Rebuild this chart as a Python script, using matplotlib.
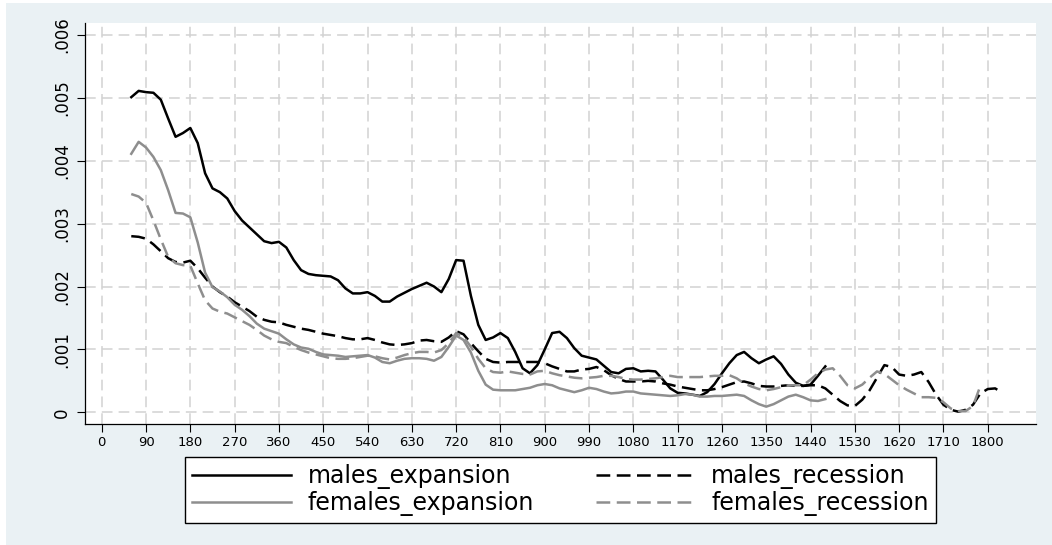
import numpy as np
import matplotlib
matplotlib.use("Agg")
import matplotlib.pyplot as plt
from matplotlib.patches import Rectangle

# hazard estimates on a 15-unit grid starting at 60
START, STEP = 60, 15

males_expansion = [
    0.00501, 0.00511, 0.00509, 0.00508, 0.00497, 0.00467, 0.00438, 0.00444, 0.00452, 0.00428,
    0.00380, 0.00356, 0.00350, 0.00340, 0.00320, 0.00305, 0.00294, 0.00283, 0.00272, 0.00269,
    0.00271, 0.00262, 0.00242, 0.00226, 0.00220, 0.00218, 0.00217, 0.00216, 0.00210, 0.00197,
    0.00189, 0.00189, 0.00191, 0.00185, 0.00176, 0.00176, 0.00184, 0.00190, 0.00196, 0.00201,
    0.00206, 0.00200, 0.00191, 0.00212, 0.00242, 0.00241, 0.00185, 0.00139, 0.00115, 0.00119,
    0.00126, 0.00118, 0.00096, 0.00070, 0.00062, 0.00075, 0.00100, 0.00126, 0.00128, 0.00118,
    0.00102, 0.00090, 0.00087, 0.00084, 0.00074, 0.00064, 0.00062, 0.00069, 0.00070, 0.00065,
    0.00066, 0.00065, 0.00052, 0.00038, 0.00031, 0.00030, 0.00028, 0.00026, 0.00032, 0.00045,
    0.00062, 0.00078, 0.00091, 0.00096, 0.00086, 0.00078, 0.00084, 0.00089, 0.00077, 0.00060,
    0.00047, 0.00042, 0.00044, 0.00058, 0.00073,
]

males_recession = [
    0.00280, 0.00279, 0.00276, 0.00267, 0.00256, 0.00245, 0.00239, 0.00238, 0.00241, 0.00229,
    0.00214, 0.00200, 0.00191, 0.00184, 0.00175, 0.00168, 0.00161, 0.00152, 0.00147, 0.00144,
    0.00143, 0.00139, 0.00136, 0.00133, 0.00131, 0.00128, 0.00125, 0.00123, 0.00121, 0.00118,
    0.00116, 0.00116, 0.00118, 0.00115, 0.00111, 0.00108, 0.00107, 0.00108, 0.00110, 0.00114,
    0.00115, 0.00113, 0.00112, 0.00119, 0.00129, 0.00124, 0.00110, 0.00097, 0.00085, 0.00080,
    0.00079, 0.00080, 0.00080, 0.00080, 0.00080, 0.00080, 0.00078, 0.00073, 0.00069, 0.00065,
    0.00065, 0.00068, 0.00069, 0.00072, 0.00067, 0.00059, 0.00053, 0.00049, 0.00049, 0.00049,
    0.00050, 0.00049, 0.00046, 0.00044, 0.00041, 0.00039, 0.00037, 0.00035, 0.00035, 0.00037,
    0.00040, 0.00044, 0.00048, 0.00049, 0.00046, 0.00042, 0.00041, 0.00041, 0.00042, 0.00043,
    0.00042, 0.00042, 0.00043, 0.00043, 0.00038, 0.00028, 0.00018, 0.00011, 0.00010, 0.00020,
    0.00035, 0.00055, 0.00075, 0.00072, 0.00060, 0.00058, 0.00060, 0.00064, 0.00048, 0.00028,
    0.00012, 0.00004, 0.00001, 0.00004, 0.00012, 0.00030, 0.00037, 0.00038, 0.00031,
]

females_expansion = [
    0.00411, 0.00430, 0.00421, 0.00406, 0.00385, 0.00353, 0.00317, 0.00316, 0.00310, 0.00270,
    0.00222, 0.00199, 0.00192, 0.00183, 0.00171, 0.00163, 0.00153, 0.00141, 0.00133, 0.00129,
    0.00125, 0.00116, 0.00108, 0.00103, 0.00101, 0.00096, 0.00092, 0.00091, 0.00090, 0.00088,
    0.00089, 0.00090, 0.00091, 0.00087, 0.00080, 0.00078, 0.00082, 0.00085, 0.00086, 0.00086,
    0.00085, 0.00082, 0.00088, 0.00104, 0.00122, 0.00115, 0.00095, 0.00066, 0.00044, 0.00036,
    0.00035, 0.00035, 0.00035, 0.00037, 0.00039, 0.00043, 0.00045, 0.00043, 0.00038, 0.00035,
    0.00032, 0.00035, 0.00039, 0.00037, 0.00033, 0.00030, 0.00031, 0.00033, 0.00033, 0.00030,
    0.00029, 0.00028, 0.00027, 0.00026, 0.00027, 0.00029, 0.00028, 0.00025, 0.00025, 0.00026,
    0.00026, 0.00027, 0.00028, 0.00026, 0.00019, 0.00013, 0.00009, 0.00013, 0.00019, 0.00025,
    0.00028, 0.00024, 0.00019, 0.00018, 0.00021,
]

females_recession = [
    0.00347, 0.00343, 0.00333, 0.00305, 0.00275, 0.00247, 0.00237, 0.00234, 0.00233, 0.00205,
    0.00178, 0.00165, 0.00160, 0.00157, 0.00151, 0.00145, 0.00139, 0.00131, 0.00122, 0.00116,
    0.00112, 0.00110, 0.00104, 0.00099, 0.00095, 0.00092, 0.00089, 0.00086, 0.00085, 0.00085,
    0.00086, 0.00088, 0.00090, 0.00089, 0.00086, 0.00084, 0.00087, 0.00091, 0.00094, 0.00096,
    0.00096, 0.00095, 0.00099, 0.00110, 0.00126, 0.00120, 0.00104, 0.00085, 0.00070, 0.00064,
    0.00063, 0.00065, 0.00063, 0.00061, 0.00060, 0.00065, 0.00066, 0.00062, 0.00059, 0.00057,
    0.00055, 0.00054, 0.00055, 0.00056, 0.00058, 0.00058, 0.00056, 0.00053, 0.00052, 0.00052,
    0.00053, 0.00054, 0.00056, 0.00058, 0.00056, 0.00056, 0.00056, 0.00056, 0.00057, 0.00058,
    0.00058, 0.00059, 0.00054, 0.00046, 0.00041, 0.00037, 0.00035, 0.00037, 0.00040, 0.00043,
    0.00043, 0.00043, 0.00052, 0.00062, 0.00068, 0.00070, 0.00058, 0.00043, 0.00038, 0.00044,
    0.00055, 0.00065, 0.00061, 0.00052, 0.00043, 0.00036, 0.00030, 0.00024, 0.00024, 0.00023,
    0.00016, 0.00006, 0.00002, 0.00002, 0.00010, 0.00042,
]

x_ticks = list(range(0, 1801, 90))
y_ticks = [0, 0.001, 0.002, 0.003, 0.004, 0.005, 0.006]
y_tick_labels = ["0", ".001", ".002", ".003", ".004", ".005", ".006"]

BG = "#eaf1f4"
GRAY = "#8e8e8e"

plt.rcParams["font.family"] = ["DejaVu Sans"]

fig = plt.figure(figsize=(10.52, 5.45), dpi=100)
fig.patch.set_facecolor("white")
# light bluish outer region, leaving a thin white strip at left and top
bg = Rectangle((6 / 1052, 0), 1, 1 - 3 / 545, transform=fig.transFigure,
               facecolor=BG, edgecolor="none", zorder=-10)
fig.add_artist(bg)

ax = fig.add_axes([85 / 1052, 1 - 424 / 545, (1036 - 85) / 1052, (424 - 22.7) / 545])
ax.set_facecolor("white")


def grid_x(vals):
    return START + STEP * np.arange(len(vals))


series = [
    (males_expansion, "males_expansion", "black", "-"),
    (males_recession, "males_recession", "black", "--"),
    (females_expansion, "females_expansion", GRAY, "-"),
    (females_recession, "females_recession", GRAY, "--"),
]
handles = {}
for vals, name, color, ls in series:
    kw = dict(color=color, lw=1.8, label=name, zorder=3, solid_joinstyle="round")
    if ls == "--":
        kw["dashes"] = (5.5, 2.6)
    (h,) = ax.plot(grid_x(vals), vals, **kw)
    handles[name] = h

ax.set_xlim(-34, 1898)
ax.set_ylim(-0.000186, 0.006194)
ax.set_xticks(x_ticks)
ax.set_xticklabels([str(t) for t in x_ticks], fontsize=9.5)
ax.set_yticks(y_ticks)
ax.set_yticklabels(y_tick_labels, rotation=90, va="center", fontsize=12)

ax.grid(True, color="#d2d2d2", lw=1.1, dashes=(7, 4))
ax.set_axisbelow(True)
for side in ("top", "right"):
    ax.spines[side].set_visible(False)
for side in ("left", "bottom"):
    ax.spines[side].set_linewidth(0.9)
ax.tick_params(axis="both", length=6, width=0.8, color="black")
ax.tick_params(axis="y", pad=4)
ax.tick_params(axis="x", pad=3)

order = ["males_expansion", "females_expansion", "males_recession", "females_recession"]
leg = fig.legend([handles[k] for k in order], order, ncol=2, loc="center",
                 bbox_to_anchor=(560.5 / 1052, 1 - 490 / 545), fontsize=17,
                 handlelength=4.2, handletextpad=0.7, columnspacing=2.6,
                 labelspacing=0.1, borderpad=0.3, frameon=True, fancybox=False,
                 framealpha=1.0)
leg.get_frame().set_edgecolor("black")
leg.get_frame().set_linewidth(1.0)
leg.get_frame().set_facecolor("white")

fig.savefig("out.png", dpi=100)
